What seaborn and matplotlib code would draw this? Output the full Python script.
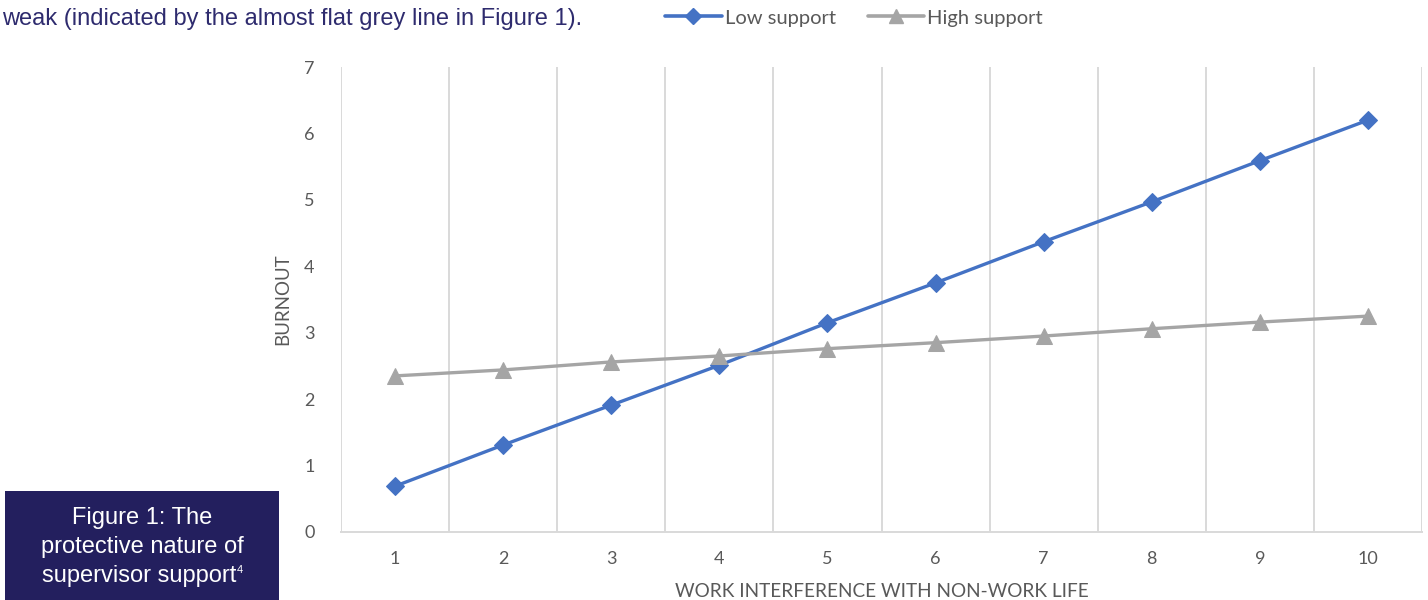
import matplotlib
matplotlib.use("Agg")
import matplotlib.pyplot as plt
import seaborn as sns
import pandas as pd
from matplotlib.patches import Rectangle
from matplotlib.lines import Line2D

categories = [1, 2, 3, 4, 5, 6, 7, 8, 9, 10]
low_support = [0.69, 1.31, 1.91, 2.51, 3.15, 3.75, 4.37, 4.97, 5.59, 6.20]
high_support = [2.35, 2.44, 2.56, 2.65, 2.76, 2.85, 2.95, 3.06, 3.16, 3.25]
y_ticks = [0, 1, 2, 3, 4, 5, 6, 7]

sns.set_theme(style="white")
plt.rcParams['font.family'] = ['Lato', 'DejaVu Sans']

BLUE = "#4472C4"
GREY = "#A5A5A5"
TXT = "#595959"
NAVY = "#231F5E"

fig = plt.figure(figsize=(14.28, 6.0), dpi=100)
ax = fig.add_axes([341/1428, 1 - 532/600, (1422 - 341)/1428, (532 - 67)/600])

df_low = pd.DataFrame({"x": categories, "y": low_support})
df_high = pd.DataFrame({"x": categories, "y": high_support})

sns.lineplot(data=df_low, x="x", y="y", ax=ax, color=BLUE, linewidth=2.4,
             marker="D", markersize=9.5, markeredgecolor=BLUE, zorder=3)
sns.lineplot(data=df_high, x="x", y="y", ax=ax, color=GREY, linewidth=2.4,
             marker="^", markersize=11.5, markeredgecolor=GREY, zorder=4)

ax.set_xlim(0.5, 10.5)
ax.set_ylim(0, 7)
ax.set_xticks(categories)
ax.set_xticklabels([str(c) for c in categories])
ax.set_xticks([c + 0.5 for c in [0] + categories], minor=True)
ax.set_yticks(y_ticks)
ax.grid(False)
ax.grid(True, which="minor", axis="x", color="#D9D9D9", linewidth=1.4)
ax.tick_params(axis="both", which="both", length=0, labelsize=13, colors=TXT)
ax.tick_params(axis="x", pad=14)
ax.tick_params(axis="y", pad=19)
for s in ["top", "left", "right"]:
    ax.spines[s].set_visible(False)
ax.spines["bottom"].set_color("#D9D9D9")
ax.spines["bottom"].set_linewidth(1.4)

ax.set_xlabel("WORK INTERFERENCE WITH NON-WORK LIFE", fontsize=13.7, color=TXT, labelpad=11)
ax.set_ylabel("BURNOUT", fontsize=13.5, color=TXT, labelpad=9)

handles = [Line2D([], [], color=BLUE, linewidth=2.6, marker="D", markersize=8.5),
           Line2D([], [], color=GREY, linewidth=2.6, marker="^", markersize=10)]
fig.legend(handles, ["Low support", "High support"], loc="center",
           bbox_to_anchor=(854/1428, 1 - 18/600), ncol=2, frameon=False,
           fontsize=14.5, labelcolor=TXT, handlelength=2.8, handletextpad=0.15,
           columnspacing=1.6)

fig.text(2/1428, 1 - 19/600, "weak (indicated by the almost flat grey line in Figure 1).",
         family=["Liberation Sans", "DejaVu Sans"], fontsize=17, color="#2E2B6E",
         ha="left", va="center")

fig.patches.append(Rectangle((5/1428, 0), (279 - 5)/1428, (600 - 491)/600,
                             transform=fig.transFigure, facecolor=NAVY,
                             edgecolor="none", zorder=0))
lines = ["Figure 1: The", "protective nature of", "supervisor support"]
texts = []
for i, line in enumerate(lines):
    t = fig.text(142/1428, 1 - (518 + 29*i)/600, line, family=["Liberation Sans", "DejaVu Sans"],
                 fontsize=17, color="white", ha="center", va="center")
    texts.append(t)

fig.canvas.draw()
r = fig.canvas.get_renderer()
last = texts[-1]
last.set_x((142 - 3) / 1428)
fig.canvas.draw()
bb = last.get_window_extent(r)
fig.text((bb.x1 + 1) / 1428, 1 - 565/600, "4", family=["Liberation Sans", "DejaVu Sans"],
         fontsize=8, color="white", ha="left", va="top")

fig.savefig("out.png", dpi=100)
